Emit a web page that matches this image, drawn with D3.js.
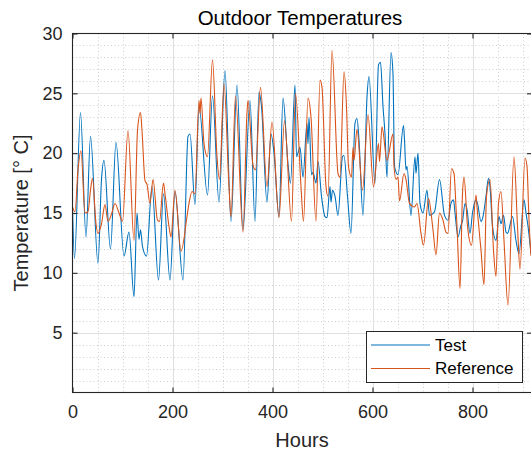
<!DOCTYPE html>
<html><head><meta charset="utf-8">
<script src="https://cdn.jsdelivr.net/npm/d3@7"></script>
<style>
html,body{margin:0;padding:0;background:#fff;}
svg{display:block;font-family:"Liberation Sans",Arial,Helvetica,sans-serif;}
</style></head>
<body><svg id="c" width="531" height="450"></svg>
<script>
const testHours = [0,4,16,27,36,51,58,63,76,87,103,113,123,129,133,136,140,148,159,172,182,195,205,221,231,235,245,253,270,280,293,305,317,329,341,355,365,373,378,389,397,403,413,421,431,436,445,448,455,461,469,471,473,478,481,487,491,498,505,509,515,517,520,525,531,540,543,550,557,565,569,573,581,589,593,605,612,616,621,625,629,637,641,644,651,662,664,667,669,677,685,687,691,695,701,709,714,724,734,744,751,757,762,765,771,777,780,785,789,795,800,807,810,817,821,827,832,835,840,847,853,857,862,867,870,880,887,893,903,907,911,917];
const testTemps = [15.5,11.2,23.4,13.0,21.4,10.8,17.8,19.4,12.0,20.9,11.4,13.4,8.0,15.0,12.8,13.6,12.2,11.4,17.2,9.4,16.6,9.4,16.8,9.4,21.4,21.6,15.7,23.9,16.5,24.8,15.9,26.9,14.3,25.7,13.6,24.4,14.3,25.1,23.9,15.9,21.6,20.0,14.7,24.6,19.1,17.5,25.7,19.7,20.5,18.0,22.5,20.8,23.0,18.2,18.4,17.5,19.3,16.4,14.7,14.6,17.2,15.9,16.9,16.4,14.8,19.7,19.8,16.4,13.3,22.5,22.9,21.1,14.8,24.7,26.4,17.5,27.4,27.6,23.9,21.6,18.0,28.4,26.6,18.9,18.2,22.3,21.1,18.6,18.9,14.8,19.7,18.3,20.0,15.8,15.0,16.9,14.8,15.1,17.8,14.8,14.4,15.8,16.1,15.0,13.0,14.0,14.3,15.8,15.3,13.3,15.0,16.1,15.8,14.3,14.7,16.4,17.9,17.2,13.9,12.7,14.7,14.1,14.8,13.4,13.3,14.7,12.7,11.6,16.1,15.0,13.9,11.6];
const refHours = [0,5,11,17,25,31,36,40,47,51,58,65,71,78,85,93,100,111,123,130,136,139,145,149,155,161,170,174,182,185,194,197,205,217,230,233,239,245,253,255,257,263,270,280,289,294,303,313,317,326,341,349,351,361,366,376,389,399,413,424,438,446,457,462,471,477,487,495,499,507,511,519,531,535,543,548,552,558,561,563,569,580,591,602,612,614,619,629,641,643,647,651,654,663,667,674,684,689,697,702,712,721,727,734,741,747,751,758,763,767,769,775,780,783,790,798,807,809,817,823,828,835,842,847,852,857,863,871,883,890,895,905,909,913,917];
const refTemps = [15.5,15.1,18.6,20.2,15.0,15.1,16.9,17.9,14.1,13.3,14.1,15.7,14.3,14.9,15.8,15.0,14.3,21.9,12.7,21.9,23.4,21.9,17.7,17.4,15.8,17.8,14.4,14.3,17.5,16.6,13.6,13.0,16.9,11.8,15.0,15.8,16.8,16.6,24.4,23.3,24.6,20.8,19.7,27.8,19.7,17.8,25.8,17.2,14.7,24.8,13.4,23.4,24.4,19.0,18.6,25.5,17.2,22.6,14.6,22.7,14.3,25.0,17.2,14.3,24.6,23.0,14.3,26.1,25.5,17.2,16.4,28.6,18.3,18.0,26.8,23.9,18.9,18.0,20.5,19.4,22.0,16.9,23.2,17.2,20.8,19.3,22.2,19.4,21.6,18.9,17.8,18.0,16.0,18.3,17.8,15.8,15.5,15.8,13.3,12.3,16.2,13.6,11.5,15.0,14.4,13.4,13.3,18.7,18.3,15.5,13.9,8.7,16.6,18.0,13.9,12.3,16.5,15.5,11.9,9.0,16.4,17.8,11.9,9.7,15.8,16.8,12.7,7.3,19.7,13.9,10.3,19.6,18.9,14.4,11.4];
const seriesNames = ["Test","Reference"];
const seriesColors = ["#0072BD","#D95319"];
const xTicks = [0,200,400,600,800];
const yTicks = [5,10,15,20,25,30];
const xMinor = d3.range(0, 951, 50);
const yMinor = d3.range(0, 31, 1);

const svg = d3.select("#c");
const L = 72.5, R = 532, T = 33.5, B = 392.5;
const x = d3.scaleLinear().domain([0, 919]).range([L, R]);
const y = d3.scaleLinear().domain([0, 30]).range([B, T]);
const ink = "#262626";

svg.append("defs").append("clipPath").attr("id","clip")
  .append("rect").attr("x",L).attr("y",T).attr("width",R-L).attr("height",B-T);

// minor grid
const g = svg.append("g");
g.selectAll(".mx").data(xMinor.filter(v=>xTicks.indexOf(v)<0 && x(v)<R)).enter().append("line")
  .attr("x1",d=>Math.round(x(d))+0.5).attr("x2",d=>Math.round(x(d))+0.5).attr("y1",T).attr("y2",B)
  .attr("stroke","#cfcfcf").attr("stroke-width",1).attr("stroke-dasharray","1,2.5");
g.selectAll(".my").data(yMinor.filter(v=>yTicks.indexOf(v)<0 && v>0)).enter().append("line")
  .attr("y1",d=>Math.round(y(d))+0.5).attr("y2",d=>Math.round(y(d))+0.5).attr("x1",L).attr("x2",R)
  .attr("stroke","#cfcfcf").attr("stroke-width",1).attr("stroke-dasharray","1,2.5");
// major grid
g.selectAll(".gx").data(xTicks.filter(v=>v>0)).enter().append("line")
  .attr("x1",d=>Math.round(x(d))+0.5).attr("x2",d=>Math.round(x(d))+0.5).attr("y1",T).attr("y2",B)
  .attr("stroke","#dfdfdf").attr("stroke-width",1);
g.selectAll(".gy").data(yTicks.filter(v=>v<30)).enter().append("line")
  .attr("y1",d=>Math.round(y(d))+0.5).attr("y2",d=>Math.round(y(d))+0.5).attr("x1",L).attr("x2",R)
  .attr("stroke","#dfdfdf").attr("stroke-width",1);

// lines
const line = d3.line().curve(d3.curveMonotoneX).x(d=>x(d[0])).y(d=>y(d[1]));
const seriesData = [d3.zip(testHours,testTemps), d3.zip(refHours,refTemps)];
const lg = svg.append("g").attr("clip-path","url(#clip)");
seriesData.forEach((s,i)=>{
  lg.append("path").attr("d",line(s)).attr("fill","none")
    .attr("stroke",seriesColors[i]).attr("stroke-width",1.1).attr("stroke-linejoin","round");
});

// axes box
svg.append("rect").attr("x",L).attr("y",T).attr("width",R-L).attr("height",B-T)
  .attr("fill","none").attr("stroke",ink).attr("stroke-width",1.1);

// axes via d3
const xAxis = svg.append("g").attr("transform",`translate(0,${B})`)
  .call(d3.axisBottom(x).tickValues(xTicks).tickSizeInner(-5).tickSizeOuter(0).tickPadding(13).tickFormat(d3.format("d")));
const xTop = svg.append("g").attr("transform",`translate(0,${T})`)
  .call(d3.axisTop(x).tickValues(xTicks).tickSizeInner(-5).tickSizeOuter(0).tickFormat(""));
const yAxis = svg.append("g").attr("transform",`translate(${L},0)`)
  .call(d3.axisLeft(y).tickValues(yTicks).tickSizeInner(-5).tickSizeOuter(0).tickPadding(10).tickFormat(d3.format("d")));
const yRight = svg.append("g").attr("transform",`translate(${R},0)`)
  .call(d3.axisRight(y).tickValues(yTicks).tickSizeInner(-5).tickSizeOuter(0).tickFormat(""));
[xAxis,xTop,yAxis,yRight].forEach(a=>{
  a.select(".domain").remove();
  a.selectAll("line").attr("stroke",ink).attr("stroke-width",1.1);
  a.selectAll("text").attr("fill",ink).style("font-size","18px")
    .style("font-family","'Liberation Sans',Arial,Helvetica,sans-serif");
});

// title & labels
svg.append("text").attr("x",300).attr("y",25).attr("text-anchor","middle")
  .attr("fill","#000").style("font-size","20.5px").text("Outdoor Temperatures");
svg.append("text").attr("x",302).attr("y",447).attr("text-anchor","middle")
  .attr("fill",ink).style("font-size","20px").text("Hours");
svg.append("text").attr("transform",`translate(28,${(T+B)/2}) rotate(-90)`).attr("text-anchor","middle")
  .attr("fill",ink).style("font-size","20px").text("Temperature [° C]");

// legend
const lgX = 366, lgY = 331, lgW = 156, lgH = 51;
const leg = svg.append("g");
leg.append("rect").attr("x",lgX+0.5).attr("y",lgY+0.5).attr("width",lgW).attr("height",lgH)
  .attr("fill","#fff").attr("stroke",ink).attr("stroke-width",1);
seriesNames.forEach((n,i)=>{
  const yy = 345 + i*23.5;
  leg.append("line").attr("x1",lgX+5).attr("x2",lgX+64).attr("y1",yy).attr("y2",yy)
    .attr("stroke",seriesColors[i]).attr("stroke-width",1.1);
  leg.append("text").attr("x",lgX+69).attr("y",yy).attr("dy","0.35em")
    .attr("fill","#000").style("font-size","17px").text(n);
});
</script></body></html>
